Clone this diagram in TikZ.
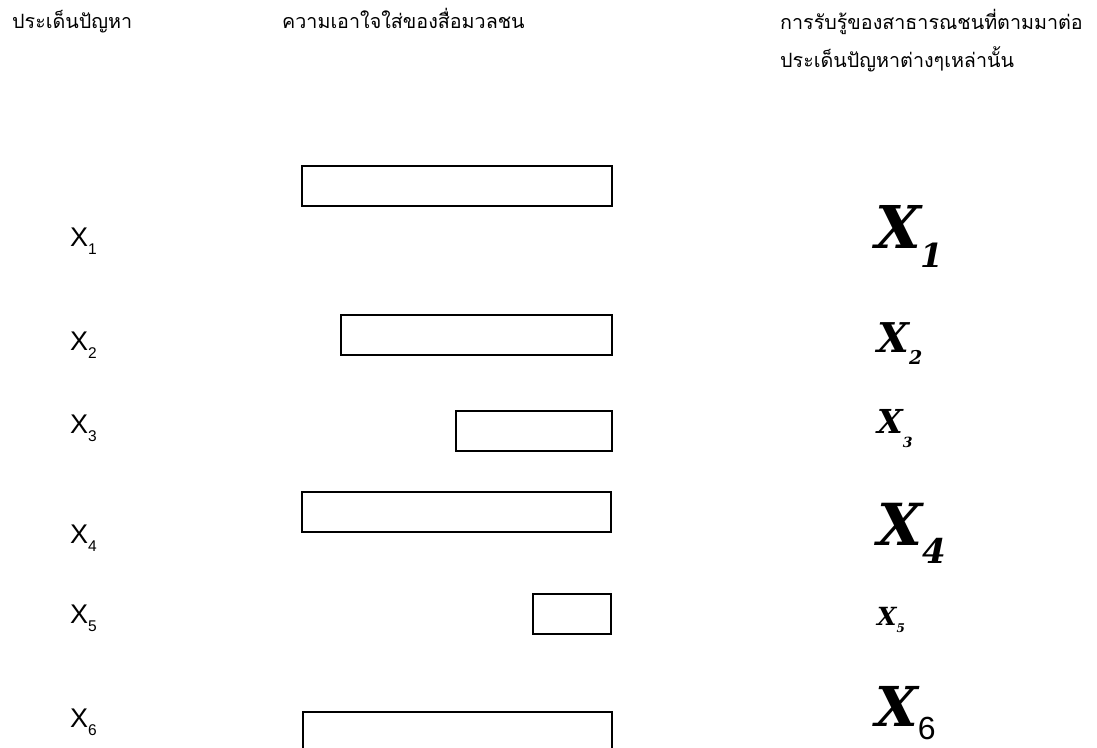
\documentclass[tikz,border=0pt]{standalone}
\usepackage{fontspec}
\newfontfamily\thai[Script=Thai]{Loma}
\newfontfamily\sansx{Liberation Sans}
\newfontfamily\xfont{DejaVu Serif}
\tikzset{
  head/.style={anchor=base west, inner sep=0pt, font=\thai\fontsize{19.7}{19.7}\selectfont},
  lab/.style={anchor=base west, inner sep=0pt, font=\sansx\fontsize{27}{27}\selectfont},
  big/.style={anchor=base west, inner sep=0pt},
  bar/.style={draw=black, line width=1.6pt, anchor=north east, inner sep=0pt, minimum height=40pt}
}
\newcommand{\lsub}[1]{\raisebox{-8pt}{\fontsize{15.5}{15.5}\selectfont #1}}
\newcommand{\bx}[5]{{\xfont\bfseries\itshape\fontsize{#1}{#1}\selectfont X}\raisebox{-#4pt}{\xfont\bfseries\itshape\fontsize{#2}{#2}\selectfont #3}#5}
\begin{document}
\begin{tikzpicture}[x=1pt,y=-1pt]
\useasboundingbox (0,0) rectangle (1097,747);
% headers
\node[head] (h1) at (12,28) {ประเด็นปัญหา};
\node[head] (h2) at (282,28) {ความเอาใจใส่ของสื่อมวลชน};
\node[head] (h3) at (780,29) {การรับรู้ของสาธารณชนที่ตามมาต่อ};
\node[head] (h4) at (780,67) {ประเด็นปัญหาต่างๆเหล่านั้น};
% left labels
\node[lab] (l1) at (70,246) {X\lsub{1}};
\node[lab] (l2) at (70,350) {X\lsub{2}};
\node[lab] (l3) at (70,433) {X\lsub{3}};
\node[lab] (l4) at (70,543) {X\lsub{4}};
\node[lab] (l5) at (70,623) {X\lsub{5}};
\node[lab] (l6) at (70,727) {X\lsub{6}};
% bars
\node[bar, minimum width=310pt] (b1) at (613,165) {};
\node[bar, minimum width=271pt] (b2) at (613,314) {};
\node[bar, minimum width=156pt] (b3) at (613,410) {};
\node[bar, minimum width=309pt] (b4) at (612,491) {};
\node[bar, minimum width=78pt] (b5) at (612,593) {};
\coordinate (b6a) at (303,749);
\coordinate (b6b) at (303,712);
\coordinate (b6c) at (612,712);
\coordinate (b6d) at (612,749);
\draw[line width=1.6pt] (b6a) -- (b6b) -- (b6c) -- (b6d);
% right labels
\node[big] (r1) at (875,248) {\bx{59}{33}{1}{19}{}};
\node[big] (r2) at (877,352) {\bx{41}{19}{2}{12}{}};
\node[big] (r3) at (877,433) {\bx{33}{14}{3}{14}{}};
\node[big] (r4) at (877,545) {\bx{58}{34}{4}{18}{}};
\node[big] (r5) at (877,625) {\bx{25}{12}{5}{7}{}};
\node[big] (r6) at (875,726) {{\xfont\bfseries\itshape\fontsize{55}{55}\selectfont X}\raisebox{-13pt}{\sansx\fontsize{32}{32}\selectfont 6}};
\end{tikzpicture}
\end{document}
